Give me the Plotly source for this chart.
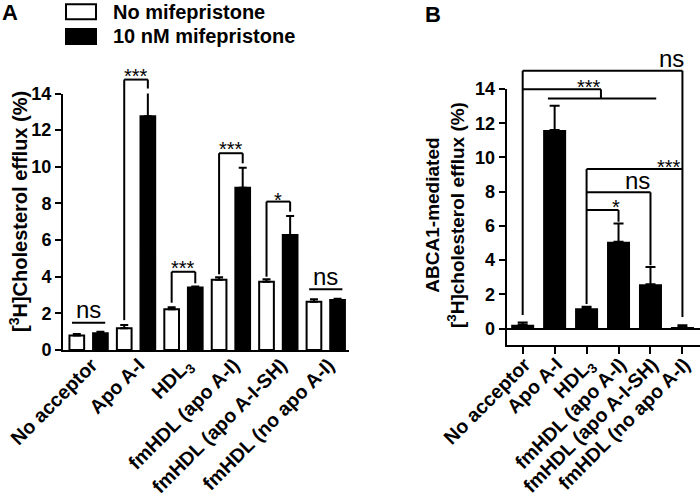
import plotly.graph_objects as go

# ---------------- data ----------------
categories = ["No acceptor", "Apo A-I", "HDL<sub>3</sub>", "fmHDL (apo A-I)",
              "fmHDL (apo A-I-SH)", "fmHDL (no apo A-I)"]
series_names = ["No mifepristone", "10 nM mifepristone"]

a_no_mife = [0.79, 1.19, 2.23, 3.83, 3.73, 2.64]
a_no_mife_err = [0.08, 0.18, 0.10, 0.14, 0.13, 0.13]
a_mife = [0.92, 12.76, 3.41, 8.86, 6.28, 2.73]
a_mife_err = [0.08, 1.38, 0.05, 1.09, 1.03, 0.07]

b_abca1 = [0.22, 11.60, 1.18, 5.07, 2.58, 0.09]
b_abca1_err = [0.13, 1.42, 0.09, 1.07, 1.02, 0.10]

y_ticks = [0, 2, 4, 6, 8, 10, 12, 14]

# significance annotations, panel A: (group, label, left foot, top, right foot)
a_pairs = [(1, "***", 1.63, 14.76, 14.27),
           (2, "***", 2.58, 4.27, 3.64),
           (3, "***", 4.13, 10.74, 10.19),
           (4, "*", 4.00, 8.10, 7.55)]
a_ns = [(0, "ns", 1.49), (5, "ns", 3.31)]

# panel B bracket segments (category x0, value y0, category x1, value y1)
b_segments = [(0, 0.79, 0, 15.07), (0, 15.07, 5, 15.07), (5, 15.07, 5, 0.67),
              (0, 13.98, 2.45, 13.98), (2.45, 13.98, 2.45, 13.45), (0.79, 13.45, 4.18, 13.45),
              (2, 9.32, 5, 9.32), (2, 9.32, 2, 1.43),
              (2, 7.96, 4, 7.96), (4, 7.96, 4, 3.70),
              (2, 6.93, 3, 6.93), (3, 6.93, 3, 6.24)]
b_labels = [(4.65, 15.07, "ns"), (2.08, 13.98, "***"), (4.58, 9.32, "***"),
            (3.60, 7.96, "ns"), (2.92, 6.93, "*")]

# ---------------- layout geometry ----------------
W, H = 700, 500
A_RANGE_X = [-0.54, 5.49]
A_RANGE_Y = [0, 14]
B_RANGE_X = [-0.50, 5.55]
B_RANGE_Y = [-0.935, 14]
A_DOM_X = [63 / W, 349 / W]
A_DOM_Y = [1 - 350 / H, 1 - 93.5 / H]
B_DOM_X = [506.7 / W, 1.0]
B_DOM_Y = [1 - 344.5 / H, 1 - 89 / H]

FONT = "Arial, Liberation Sans, sans-serif"
BAR_W = 0.31
HALF = 0.249


def ydom(v, rng):
    return (v - rng[0]) / (rng[1] - rng[0])


fig = go.Figure()

fig.add_trace(go.Bar(
    x=list(range(6)), y=a_no_mife, name=series_names[0],
    width=BAR_W, offset=-HALF - BAR_W / 2,
    marker=dict(color="white", line=dict(color="black", width=2)),
    error_y=dict(type="data", array=a_no_mife_err, arrayminus=[0] * 6, symmetric=False,
                 color="black", thickness=2, width=4),
    xaxis="x", yaxis="y", showlegend=False))
fig.add_trace(go.Bar(
    x=list(range(6)), y=a_mife, name=series_names[1],
    width=BAR_W, offset=HALF - BAR_W / 2,
    marker=dict(color="black", line=dict(color="black", width=2)),
    error_y=dict(type="data", array=a_mife_err, arrayminus=[0] * 6, symmetric=False,
                 color="black", thickness=2, width=4),
    xaxis="x", yaxis="y", showlegend=False))
fig.add_trace(go.Bar(
    x=list(range(6)), y=b_abca1, name="ABCA1-mediated",
    width=0.72,
    marker=dict(color="black", line=dict(color="black", width=0)),
    error_y=dict(type="data", array=b_abca1_err, arrayminus=[0] * 6, symmetric=False,
                 color="black", thickness=2, width=5),
    xaxis="x2", yaxis="y2", showlegend=False))

shapes = []
annots = []


def seg(xref, yref, rng, x0, y0, x1, y1):
    shapes.append(dict(type="line", xref=xref, yref=yref + " domain",
                       x0=x0, x1=x1, y0=ydom(y0, rng), y1=ydom(y1, rng),
                       line=dict(color="black", width=2)))


def label(xref, yref, rng, x, y, text, shift):
    size = 24 if text == "ns" else 20
    corr = 2 if text == "ns" else -4.5
    annots.append(dict(xref=xref, yref=yref + " domain", x=x, y=ydom(y, rng), text=text,
                       showarrow=False, yanchor="middle", xanchor="center",
                       yshift=shift + corr,
                       font=dict(family=FONT, size=size, color="black")))


for g, lab, lf, top, rf in a_pairs:
    xl, xr = g - HALF, g + HALF
    seg("x", "y", A_RANGE_Y, xl, lf, xl, top)
    seg("x", "y", A_RANGE_Y, xl, top, xr, top)
    seg("x", "y", A_RANGE_Y, xr, top, xr, rf)
    label("x", "y", A_RANGE_Y, g, top, lab, 8.5 if lab == "***" else 6)
for g, lab, yv in a_ns:
    seg("x", "y", A_RANGE_Y, g - 0.35, yv, g + 0.35, yv)
    label("x", "y", A_RANGE_Y, g, yv, lab, 11)

for x0, y0, x1, y1 in b_segments:
    seg("x2", "y2", B_RANGE_Y, x0, y0, x1, y1)
for x, yv, lab in b_labels:
    label("x2", "y2", B_RANGE_Y, x, yv, lab, 10 if lab == "ns" else 7)

# legend (drawn)
for i, (fill, yc) in enumerate([("white", 11.7), ("black", 36.5)]):
    shapes.append(dict(type="rect", xref="paper", yref="paper",
                       x0=66 / W, x1=96 / W, y0=1 - (yc + 7.5) / H, y1=1 - (yc - 7.5) / H,
                       fillcolor=fill, line=dict(color="black", width=2)))
    annots.append(dict(xref="paper", yref="paper", x=111 / W, y=1 - yc / H,
                       text=series_names[i], showarrow=False, xanchor="left", yanchor="middle",
                       font=dict(family=FONT, size=20, color="black", weight="bold")))

# panel letters
annots.append(dict(xref="paper", yref="paper", x=10 / W, y=1 - 12.5 / H, text="A",
                   showarrow=False, xanchor="center", yanchor="middle",
                   font=dict(family=FONT, size=22, color="black", weight="bold")))
annots.append(dict(xref="paper", yref="paper", x=433 / W, y=1 - 14 / H, text="B",
                   showarrow=False, xanchor="center", yanchor="middle",
                   font=dict(family=FONT, size=22, color="black", weight="bold")))

# axis titles
annots.append(dict(xref="paper", yref="paper", x=19 / W, y=1 - 212 / H,
                   text="[<sup>3</sup>H]Cholesterol efflux (%)", textangle=-90,
                   showarrow=False, xanchor="center", yanchor="middle",
                   font=dict(family=FONT, size=20, color="black", weight="bold")))
annots.append(dict(xref="paper", yref="paper", x=445 / W, y=1 - 215 / H,
                   text="ABCA1-mediated<br>[<sup>3</sup>H]cholesterol efflux (%)", textangle=-90,
                   showarrow=False, xanchor="center", yanchor="middle",
                   font=dict(family=FONT, size=19, color="black", weight="bold")))

tickfont = dict(family=FONT, size=18, color="black", weight="bold")
xtickfont = dict(family=FONT, size=19.5, color="black", weight="bold")
common = dict(showgrid=False, automargin=False, showline=True, linewidth=2,
              linecolor="black")
fig.update_layout(
    template="none",
    width=W, height=H, margin=dict(l=0, r=0, t=0, b=0, pad=0, autoexpand=False),
    paper_bgcolor="white", plot_bgcolor="white",
    barmode="overlay", shapes=shapes, annotations=annots,
    xaxis=dict(domain=A_DOM_X, range=A_RANGE_X, anchor="y",
               tickvals=list(range(6)), ticktext=categories, tickangle=-45,
               ticks="", zeroline=False, ticklabelstandoff=-6, ticklabelshift=3,
               tickfont=xtickfont, **common),
    yaxis=dict(domain=A_DOM_Y, range=A_RANGE_Y, anchor="x",
               tickvals=y_ticks, ticks="outside", ticklen=6, tickwidth=2, tickcolor="black",
               zeroline=False, tickfont=tickfont, **common),
    xaxis2=dict(domain=B_DOM_X, range=B_RANGE_X, anchor="y2",
                tickvals=list(range(6)), ticktext=categories, tickangle=-45,
                ticks="outside", ticklen=7, tickwidth=2, tickcolor="black",
                zeroline=False, ticklabelstandoff=-8, ticklabelshift=2,
                tickfont=xtickfont, **common),
    yaxis2=dict(domain=B_DOM_Y, range=B_RANGE_Y, anchor="x2",
                tickvals=y_ticks, ticks="outside", ticklen=6, tickwidth=2, tickcolor="black",
                zeroline=True, zerolinecolor="black", zerolinewidth=2,
                tickfont=tickfont, **common),
)

fig.write_html("out.html", post_script="document.body.style.margin='0';",
               config={"displayModeBar": False})
